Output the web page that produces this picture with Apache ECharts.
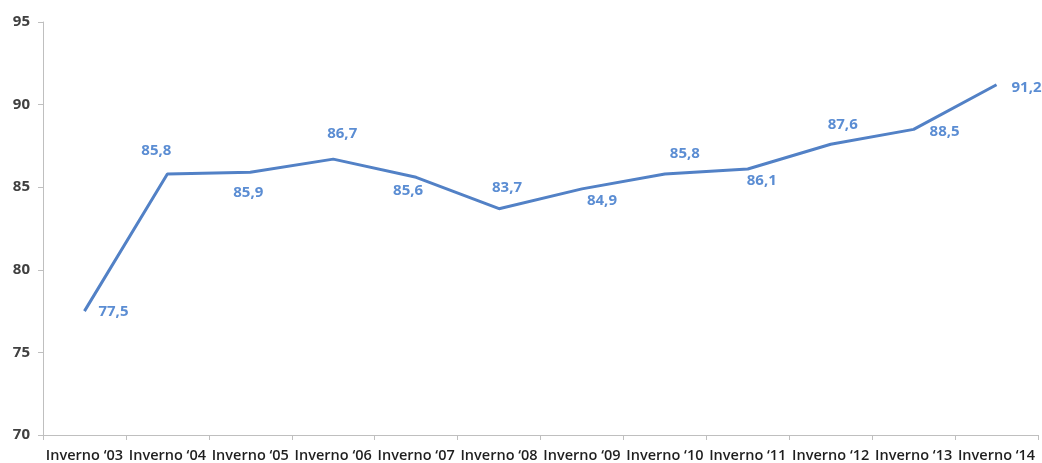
<!DOCTYPE html>
<html>
<head>
<meta charset="utf-8">
<script src="https://cdn.jsdelivr.net/npm/echarts@6/dist/echarts.min.js"></script>
<style>
  html, body { margin: 0; padding: 0; background: #fff; }
  #chart { width: 1042px; height: 463px; }
</style>
</head>
<body>
<div id="chart"></div>
<script>
// Winter seasons and their index values
var categories = ['Inverno \u201803', 'Inverno \u201804', 'Inverno \u201805', 'Inverno \u201806',
  'Inverno \u201807', 'Inverno \u201808', 'Inverno \u201809', 'Inverno \u201810',
  'Inverno \u201811', 'Inverno \u201812', 'Inverno \u201813', 'Inverno \u201814'];
var values = [77.5, 85.8, 85.9, 86.7, 85.6, 83.7, 84.9, 85.8, 86.1, 87.6, 88.5, 91.2];
var yTicks = [70, 75, 80, 85, 90, 95];

// Label placement (offset from each point, in px)
var labelOffsets = [[29, 1], [-11, -23], [-2, 20], [9, -25], [-8, 13], [8, -21],
  [20, 12], [20, -20], [14, 12], [12, -20], [31, 2], [30, 3]];

var blue = '#5281C6';
var labelBlue = '#5B8DD3';

var chart = echarts.init(document.getElementById('chart'), null, { renderer: 'canvas' });

var seriesData = values.map(function (v, i) {
  return {
    value: v,
    label: { offset: labelOffsets[i] }
  };
});

chart.setOption({
  animation: false,
  grid: { left: 43, right: 4, top: 22, bottom: 28 },
  xAxis: {
    type: 'category',
    data: categories,
    boundaryGap: true,
    axisLine: { lineStyle: { color: '#BFBFBF', width: 1 } },
    axisTick: { show: true, length: 5, lineStyle: { color: '#BFBFBF' } },
    axisLabel: {
      interval: 0,
      color: '#1F1F1F',
      fontFamily: 'Open Sans',
      fontWeight: 600,
      fontSize: 14.5,
      margin: 13
    },
    splitLine: { show: false }
  },
  yAxis: {
    type: 'value',
    min: yTicks[0],
    max: yTicks[yTicks.length - 1],
    interval: 5,
    axisLine: { show: true, lineStyle: { color: '#BFBFBF', width: 1 } },
    axisTick: { show: true, length: 5, lineStyle: { color: '#BFBFBF' } },
    axisLabel: {
      color: '#404040',
      fontFamily: 'Open Sans',
      fontWeight: 'bold',
      fontSize: 15,
      margin: 13
    },
    splitLine: { show: false }
  },
  series: [{
    type: 'line',
    data: seriesData,
    symbol: 'circle',
    symbolSize: 1,
    showSymbol: true,
    itemStyle: { color: 'rgba(0,0,0,0)', borderWidth: 0 },
    lineStyle: { color: blue, width: 3 },
    label: {
      show: true,
      position: 'inside',
      color: labelBlue,
      fontFamily: 'Open Sans',
      fontWeight: 'bold',
      fontSize: 15,
      formatter: function (p) {
        return p.value.toFixed(1).replace('.', ',');
      }
    }
  }]
});
</script>
</body>
</html>
